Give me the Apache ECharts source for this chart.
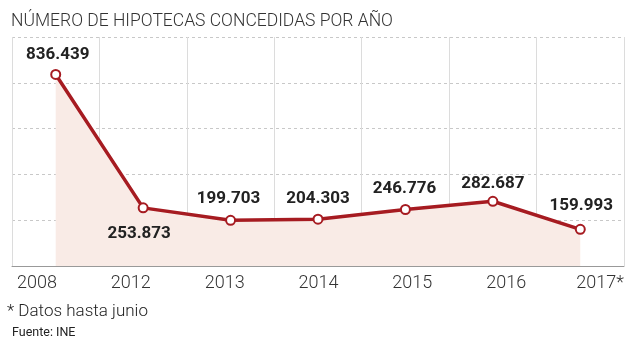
<!DOCTYPE html>
<html>
<head>
<meta charset="utf-8">
<script src="https://cdn.jsdelivr.net/npm/echarts@6/dist/echarts.min.js"></script>
<style>
html,body{margin:0;padding:0;background:#fff;}
#chart{width:634px;height:344px;}
</style>
</head>
<body>
<div id="chart"></div>
<script>
var categories = ['2008', '2012', '2013', '2014', '2015', '2016', '2017*'];
var values = [836439, 253873, 199703, 204303, 246776, 282687, 159993];
var valueLabels = ['836.439', '253.873', '199.703', '204.303', '246.776', '282.687', '159.993'];
var yTicks = [0, 200000, 400000, 600000, 800000, 1000000];

// label placement (style only)
var labelPos = ['top', 'bottom', 'top', 'top', 'top', 'top', 'top'];
var labelDist = [5.5, 11.5, 7.5, 6.5, 6.5, 3.5, 9.5];
var labelOff = [[2, 0], [-4, 0], [-2, 0], [0, 0], [-1, 0], [0, 0], [1, 0]];

var RED = '#a61b21';

var chart = echarts.init(document.getElementById('chart'), null, {renderer: 'canvas'});

var seriesData = values.map(function (v, i) {
  return {
    value: v,
    label: {
      position: labelPos[i],
      distance: labelDist[i],
      offset: labelOff[i],
      formatter: valueLabels[i]
    }
  };
});

var option = {
  animation: false,
  backgroundColor: '#ffffff',
  title: {
    text: 'NÚMERO DE HIPOTECAS CONCEDIDAS POR AÑO',
    left: 6,
    top: 8,
    textStyle: {
      fontFamily: 'Roboto',
      fontWeight: 300,
      fontSize: 17.5,
      color: '#333'
    }
  },
  graphic: [
    {
      type: 'text',
      left: 7,
      top: 303,
      style: {
        text: '* Datos hasta junio',
        font: '300 17px Roboto',
        fill: '#222'
      }
    },
    {
      type: 'text',
      left: 12,
      top: 326,
      style: {
        text: 'Fuente: INE',
        font: '400 12.5px Roboto',
        fill: '#222'
      }
    }
  ],
  grid: [
    {left: 12, right: 10, top: 37, bottom: 78, containLabel: false},
    {left: 37, right: 34, top: 37, bottom: 78, containLabel: false}
  ],
  xAxis: [
    {
      type: 'category',
      gridIndex: 0,
      data: categories,
      boundaryGap: true,
      axisLine: {show: true, lineStyle: {color: '#999', width: 1}},
      axisTick: {show: false},
      axisLabel: {show: false},
      splitLine: {show: true, lineStyle: {color: '#dcdcdc', width: 1, type: 'solid'}}
    },
    {
      type: 'category',
      gridIndex: 1,
      data: categories,
      boundaryGap: false,
      axisLine: {show: false},
      axisTick: {show: false},
      splitLine: {show: false},
      axisLabel: {
        show: true,
        margin: 8,
        interval: 0,
        fontFamily: 'Roboto',
        fontWeight: 300,
        fontSize: 18,
        color: '#333'
      }
    }
  ],
  yAxis: [
    {
      type: 'value',
      gridIndex: 0,
      min: yTicks[0],
      max: yTicks[yTicks.length - 1],
      interval: yTicks[1] - yTicks[0],
      axisLine: {show: false},
      axisTick: {show: false},
      axisLabel: {show: false},
      splitLine: {show: true, lineStyle: {color: '#c8c8c8', width: 1, type: [3, 3]}}
    },
    {
      type: 'value',
      gridIndex: 1,
      min: 0,
      max: 1,
      show: false
    }
  ],
  series: [
    {
      type: 'line',
      xAxisIndex: 0,
      yAxisIndex: 0,
      data: seriesData,
      symbol: 'circle',
      symbolSize: 9,
      showAllSymbol: true,
      lineStyle: {color: RED, width: 3.5},
      itemStyle: {color: '#ffffff', borderColor: RED, borderWidth: 2},
      areaStyle: {color: '#f9ebe6', opacity: 1},
      label: {
        show: true,
        fontFamily: 'Roboto',
        fontWeight: 'bold',
        fontSize: 17,
        color: '#222'
      },
      z: 3
    }
  ]
};

chart.setOption(option);
</script>
</body>
</html>
